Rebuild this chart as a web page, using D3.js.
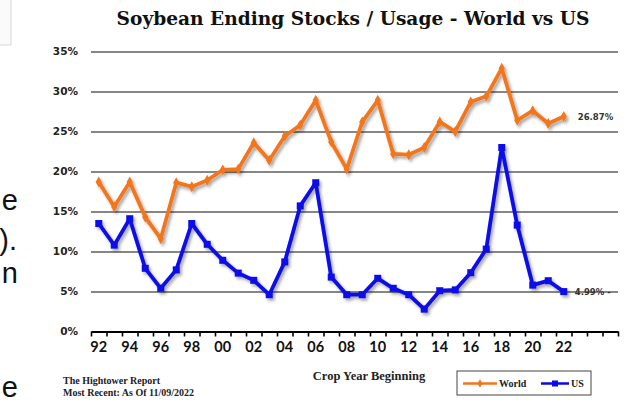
<!DOCTYPE html>
<html>
<head>
<meta charset="utf-8">
<script src="https://cdn.jsdelivr.net/npm/d3@7/dist/d3.min.js"></script>
<style>
  html, body { margin: 0; padding: 0; background: #fff; }
  svg { display: block; }
</style>
</head>
<body>
<svg id="chart" width="628" height="404"></svg>
<script>
// Crop-year slots on the category axis (1992/93 through 2025/26)
const cropYears = ["92","93","94","95","96","97","98","99","00","01","02","03","04","05","06","07",
                   "08","09","10","11","12","13","14","15","16","17","18","19","20","21","22","23","24","25"];
// Labelled categories
const tickLabels = ["92","94","96","98","00","02","04","06","08","10","12","14","16","18","20","22"];
// Percent gridlines
const yTicks = [0, 5, 10, 15, 20, 25, 30, 35];

// Ending stocks / usage (%), crop years 1992 .. 2022
const worldValues = [18.7, 15.6, 18.7, 14.3, 11.6, 18.6, 18.1, 18.9, 20.2, 20.3, 23.6, 21.4, 24.4, 25.8, 28.9, 23.7,
                     20.3, 26.2, 28.9, 22.2, 22.1, 23.0, 26.2, 25.0, 28.7, 29.4, 32.9, 26.4, 27.6, 26.0, 26.87];
const usValues    = [13.5, 10.8, 14.1, 7.9, 5.4, 7.7, 13.5, 10.9, 8.9, 7.3, 6.4, 4.6, 8.7, 15.7, 18.6, 6.8,
                     4.6, 4.6, 6.65, 5.4, 4.6, 2.8, 5.1, 5.2, 7.35, 10.3, 23.0, 13.3, 5.8, 6.35, 4.99];

const seriesNames = ["World", "US"];
const colors = { World: "#f2761f", US: "#0a0ae8" };

const svg = d3.select("#chart");

const plot = { left: 91, right: 618, top: 51.5, bottom: 331.5 };

const x = d3.scaleBand().domain(cropYears).range([plot.left, plot.right]).padding(0);
const xSlot = d3.scaleLinear().domain([0, cropYears.length]).range([plot.left, plot.right]);
const y = d3.scaleLinear().domain([0, 35]).range([plot.bottom, plot.top]);
const cx = c => x(c) + x.bandwidth() / 2;

const defs = svg.append("defs");
const shadow = defs.append("filter").attr("id", "lineShadow")
  .attr("x", "-10%").attr("y", "-10%").attr("width", "120%").attr("height", "130%");
shadow.append("feDropShadow").attr("dx", 2).attr("dy", 2.5).attr("stdDeviation", 1.4)
  .attr("flood-color", "#000").attr("flood-opacity", 0.35);

// Left-edge text fragments of the surrounding page
svg.append("rect").attr("x", -1).attr("y", -1).attr("width", 12).attr("height", 46)
  .attr("fill", "#fafafa").attr("stroke", "#d8d8d8");
const frag = svg.append("g").attr("font-family", "Liberation Sans, Arial, sans-serif")
  .attr("font-size", 29).attr("fill", "#111").attr("text-anchor", "end");
[["e", 18, 210], [").", 17, 250], ["n", 18, 283], ["e", 18, 397]].forEach(([t, tx, ty]) => {
  frag.append("text").attr("x", tx).attr("y", ty).text(t);
});

// Title
svg.append("text")
  .attr("x", 353).attr("y", 25)
  .attr("text-anchor", "middle")
  .attr("font-family", "DejaVu Serif, serif")
  .attr("font-weight", "bold")
  .attr("font-size", 18.6)
  .attr("fill", "#111")
  .text("Soybean Ending Stocks / Usage - World vs US");

// Horizontal gridlines
svg.append("g")
  .attr("transform", `translate(${plot.left},0)`)
  .call(d3.axisRight(y).tickValues(yTicks.filter(v => v > 0)).tickSize(plot.right - plot.left).tickFormat(""))
  .call(g => g.select(".domain").remove())
  .call(g => g.selectAll(".tick line").attr("stroke", "#5e5e5e").attr("stroke-width", 1.7));

// Y axis labels
svg.append("g")
  .attr("transform", `translate(78,0)`)
  .call(d3.axisLeft(y).tickValues(yTicks).tickSize(0).tickPadding(0).tickFormat(d => d + "%"))
  .call(g => g.select(".domain").remove())
  .call(g => g.selectAll("text")
    .attr("font-family", "DejaVu Sans, sans-serif")
    .attr("font-weight", "bold")
    .attr("font-size", 10.5)
    .attr("fill", "#222"));

// Category axis: tick marks between slots
svg.append("g")
  .attr("transform", `translate(0,${plot.bottom})`)
  .call(d3.axisBottom(xSlot).tickValues(d3.range(cropYears.length + 1)).tickSizeInner(5).tickSizeOuter(0).tickFormat(""))
  .call(g => g.select(".domain").attr("stroke", "#000").attr("stroke-width", 2))
  .call(g => g.selectAll(".tick line").attr("stroke", "#000").attr("stroke-width", 1.6));

// Category axis labels
svg.append("g")
  .attr("transform", `translate(0,${plot.bottom})`)
  .call(d3.axisBottom(x).tickValues(tickLabels).tickSize(0).tickPadding(10))
  .call(g => g.select(".domain").remove())
  .call(g => g.selectAll("text")
    .attr("dy", "0.71em")
    .attr("font-family", "Lato, sans-serif")
    .attr("font-weight", "bold")
    .attr("font-size", 14.5)
    .attr("fill", "#111"));

// Series lines and markers
const series = [
  { name: "World", values: worldValues },
  { name: "US", values: usValues }
];
const line = d3.line().x((d, i) => cx(cropYears[i])).y(d => y(d));

const seriesG = svg.append("g").attr("filter", "url(#lineShadow)");
series.forEach(s => {
  const g = seriesG.append("g");
  g.append("path")
    .attr("d", line(s.values))
    .attr("fill", "none")
    .attr("stroke", colors[s.name])
    .attr("stroke-width", 3.8)
    .attr("stroke-linejoin", "round");
  if (s.name === "US") {
    g.selectAll("rect").data(s.values).join("rect")
      .attr("x", (d, i) => cx(cropYears[i]) - 3.5)
      .attr("y", d => y(d) - 3.5)
      .attr("width", 7).attr("height", 7)
      .attr("fill", colors[s.name]);
  } else {
    g.selectAll("path.mk").data(s.values).join("path")
      .attr("class", "mk")
      .attr("d", d3.symbol(d3.symbolDiamond, 34))
      .attr("transform", (d, i) => `translate(${cx(cropYears[i])},${y(d)})`)
      .attr("fill", colors[s.name]);
  }
});

// Latest-value labels
const last = worldValues.length - 1;
svg.append("text")
  .attr("x", cx(cropYears[last]) + 14).attr("y", y(worldValues[last]) + 3)
  .attr("font-family", "DejaVu Sans, sans-serif").attr("font-weight", "bold")
  .attr("font-size", 8.5).attr("fill", "#333")
  .text(worldValues[last].toFixed(2) + "%");
svg.append("text")
  .attr("x", cx(cropYears[last]) + 11).attr("y", y(usValues[last]) + 3)
  .attr("font-family", "DejaVu Sans, sans-serif").attr("font-weight", "bold")
  .attr("font-size", 8.5).attr("fill", "#333")
  .text(usValues[last].toFixed(2) + "% -");

// Axis title
svg.append("text")
  .attr("x", 369).attr("y", 380)
  .attr("text-anchor", "middle")
  .attr("font-family", "Liberation Serif, serif").attr("font-weight", "bold")
  .attr("font-size", 12.5).attr("fill", "#222")
  .text("Crop Year Beginning");

// Source note
const note = svg.append("g")
  .attr("font-family", "Liberation Serif, serif").attr("font-weight", "bold")
  .attr("font-size", 10).attr("fill", "#222");
note.append("text").attr("x", 63).attr("y", 384).text("The Hightower Report");
note.append("text").attr("x", 63).attr("y", 396).text("Most Recent: As Of 11/09/2022");

// Legend
const legend = svg.append("g").attr("transform", "translate(457,371)");
legend.append("rect").attr("width", 134).attr("height", 24)
  .attr("fill", "#fff").attr("stroke", "#444").attr("stroke-width", 1);
const legendItems = [
  { name: "World", x0: 6, x1: 40, tx: 42 },
  { name: "US", x0: 84, x1: 112, tx: 114 }
];
legendItems.forEach(it => {
  legend.append("line").attr("x1", it.x0).attr("x2", it.x1).attr("y1", 12.5).attr("y2", 12.5)
    .attr("stroke", colors[it.name]).attr("stroke-width", 2.5);
  const mx = (it.x0 + it.x1) / 2;
  if (it.name === "US") {
    legend.append("rect").attr("x", mx - 3).attr("y", 9.5).attr("width", 6).attr("height", 6).attr("fill", colors[it.name]);
  } else {
    legend.append("path").attr("d", d3.symbol(d3.symbolDiamond, 22)).attr("transform", `translate(${mx},12.5)`).attr("fill", colors[it.name]);
  }
  legend.append("text").attr("x", it.tx).attr("y", 16)
    .attr("font-family", "Liberation Serif, serif").attr("font-weight", "bold")
    .attr("font-size", 10).attr("fill", "#222").text(it.name);
});
</script>
</body>
</html>
